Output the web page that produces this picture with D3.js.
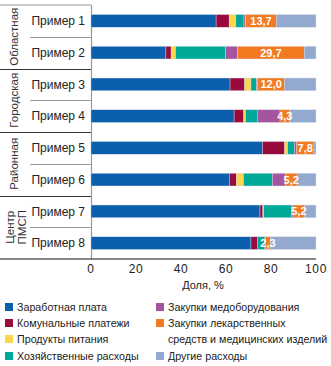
<!DOCTYPE html>
<html>
<head>
<meta charset="utf-8">
<script src="https://cdn.jsdelivr.net/npm/d3@7"></script>
<style>
  body { margin: 0; background: #fff; }
  text { font-family: "Liberation Sans", Arial, sans-serif; fill: #222; }
</style>
</head>
<body>
<div id="grafica"></div>
<script>
// Структура расходов по примерам, доля %

const examples = ["Пример 1", "Пример 2", "Пример 3", "Пример 4", "Пример 5", "Пример 6", "Пример 7", "Пример 8"]
const groups = [["Областная"], ["Городская"], ["Районная"], ["Центр", "ПМСП"]]

const salary    = [55.6, 33.3, 61.8, 63.6, 76.2, 61.5, 75.1, 71.1]
const utilities = [5.8, 2.3, 6.5, 4.3, 9.9, 3.2, 1.3, 2.8]
const food      = [3.0, 2.0, 2.8, 0.8, 1.3, 3.1, 0.4, 0.0]
const household = [3.6, 22.3, 2.5, 5.2, 3.0, 12.8, 12.4, 3.4]
const equipment = [0.7, 5.2, 0.5, 10.1, 0.9, 5.8, 0.6, 0.2]
const medicines = [13.7, 29.7, 12.0, 4.3, 7.8, 5.2, 5.2, 2.3]
const other     = [17.6, 5.2, 13.9, 11.7, 0.9, 8.4, 5.0, 20.2]

const medLabels = ["13,7", "29,7", "12,0", "4,3", "7,8", "5,2", "5,2", "2,3"]
const xTicks = [0, 20, 40, 60, 80, 100]

const seriesNames = ["Заработная плата", "Комунальные платежи", "Продукты питания", "Хозяйственные расходы",
                     "Закупки медоборудования", "Закупки лекарственных средств и медицинских изделий", "Другие расходы"]
const colors = ["#0b5fac", "#9a0b3d", "#fdd64b", "#00a898", "#a5559f", "#f37a21", "#93a9cf"]

let width = 331
let height = 366

const keys = d3.range(7)
const table = examples.map((name, i) => {
    let row = { name: name }
    let values = [salary, utilities, food, household, equipment, medicines, other]
    keys.forEach(k => row[k] = values[k][i])
    return row
})

const stacked = d3.stack().keys(keys)(table)

const xScale = d3.scaleLinear()
    .domain([0, 100])
    .range([91, 316])

const yScale = d3.scaleBand()
    .domain(examples)
    .range([5, 259])
    .paddingInner(0.6)
    .paddingOuter(0.3)

const step = yScale.step()

const svg = d3.select('#grafica')
    .append("svg")
    .attr("width", width)
    .attr("height", height)

// левая панель: линии
svg.append("line")
    .attr("x1", 0).attr("x2", 91).attr("y1", 5).attr("y2", 5)
    .attr("stroke", "#999").attr("stroke-width", 1)

for (let k = 1; k < 8; k++) {
    let y = Math.round(5 + step * k) + 0.5
    let isGroup = k % 2 == 0
    svg.append("line")
        .attr("x1", isGroup ? 0 : 30).attr("x2", 91)
        .attr("y1", y).attr("y2", y)
        .attr("stroke", isGroup ? "#333" : "#999")
        .attr("stroke-width", 1)
}

svg.append("line")
    .attr("x1", 91.5).attr("x2", 91.5).attr("y1", 5).attr("y2", 259)
    .attr("stroke", "#999").attr("stroke-width", 1.2)

// названия групп
groups.forEach((lines, g) => {
    let cy = 5 + step * (2 * g + 1)
    lines.forEach((t, j) => {
        let cx = lines.length == 1 ? 14 : 10 + j * 12
        svg.append("text")
            .attr("transform", "translate(" + cx + "," + cy + ") rotate(-90)")
            .attr("text-anchor", "middle")
            .attr("dy", "0.35em")
            .style("font-size", "11.5px")
            .style("fill", "#333")
            .text(t)
    })
})

// подписи строк
svg.selectAll("text.row")
    .data(examples)
    .enter()
    .append("text")
    .attr("class", "row")
    .attr("x", 85)
    .attr("y", d => yScale(d) + yScale.bandwidth() / 2)
    .attr("dy", "0.35em")
    .attr("text-anchor", "end")
    .style("font-size", "12px")
    .text(d => d)

// столбцы
svg.append("g")
    .selectAll("g")
    .data(stacked)
    .enter()
    .append("g")
    .attr("fill", d => colors[d.key])
    .selectAll("rect")
    .data(d => d)
    .enter()
    .append("rect")
    .attr("x", d => xScale(d[0]))
    .attr("y", d => yScale(d.data.name))
    .attr("width", d => xScale(d[1]) - xScale(d[0]))
    .attr("height", yScale.bandwidth())
    .attr("stroke", "#d5deec")
    .attr("stroke-width", 0.4)

// значения лекарственных средств
svg.selectAll("text.val")
    .data(stacked[5])
    .enter()
    .append("text")
    .attr("class", "val")
    .attr("x", d => xScale((d[0] + d[1]) / 2))
    .attr("y", d => yScale(d.data.name) + yScale.bandwidth() / 2)
    .attr("dy", "0.36em")
    .attr("text-anchor", "middle")
    .style("font-size", "11px")
    .style("font-weight", "bold")
    .style("fill", "#fff")
    .text((d, i) => medLabels[i])

// ось X
svg.append("line")
    .attr("x1", 0).attr("x2", 316).attr("y1", 259).attr("y2", 259)
    .attr("stroke", "#111").attr("stroke-width", 1)

svg.selectAll("text.tick")
    .data(xTicks)
    .enter()
    .append("text")
    .attr("class", "tick")
    .attr("x", d => xScale(d))
    .attr("y", 273)
    .attr("text-anchor", "middle")
    .style("font-size", "12px")
    .style("letter-spacing", "0.6px")
    .text(d => d)

svg.append("text")
    .attr("x", 203)
    .attr("y", 289)
    .attr("text-anchor", "middle")
    .style("font-size", "11px")
    .text("Доля, %")

// легенда
const legendPos = [
    [5, 307], [5, 323], [5, 339], [5, 356],
    [156, 307], [156, 323], [156, 356]
]

seriesNames.forEach((name, i) => {
    let p = legendPos[i]
    svg.append("rect")
        .attr("x", p[0]).attr("y", p[1] - 4)
        .attr("width", 8).attr("height", 8)
        .attr("fill", colors[i])
    let t = svg.append("text")
        .attr("x", p[0] + 12)
        .attr("y", p[1])
        .attr("dy", "0.35em")
        .style("font-size", "10.7px")
    if (i == 5) {
        t.append("tspan").attr("x", p[0] + 12).text("Закупки лекарственных")
        t.append("tspan").attr("x", p[0] + 12).attr("dy", 16).text("средств и медицинских изделий")
    } else {
        t.text(name)
    }
})
</script>
</body>
</html>
